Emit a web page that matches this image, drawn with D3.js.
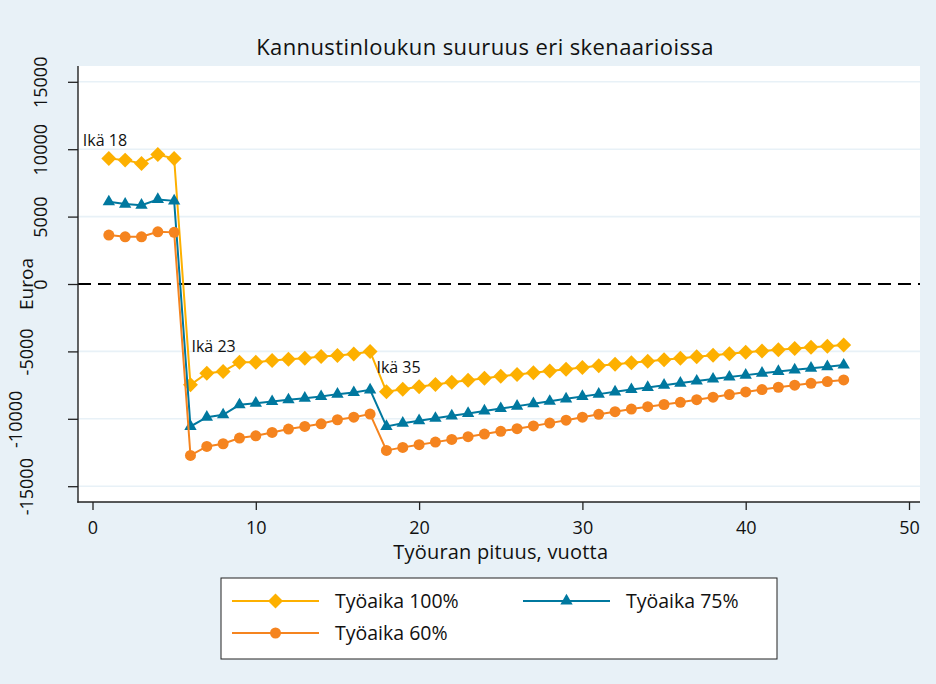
<!DOCTYPE html>
<html>
<head>
<meta charset="utf-8">
<script src="https://cdn.jsdelivr.net/npm/d3@7/dist/d3.min.js"></script>
<style>
  body { margin: 0; background: #e8f1f7; }
  text { font-family: "Open Sans", Lato, sans-serif; fill: #111; }
</style>
</head>
<body>
<svg id="chart" width="936" height="684"></svg>
<script>
// data
var years = [1, 2, 3, 4, 5, 6, 7, 8, 9, 10, 11, 12, 13, 14, 15, 16, 17, 18, 19, 20, 21, 22, 23,
  24, 25, 26, 27, 28, 29, 30, 31, 32, 33, 34, 35, 36, 37, 38, 39, 40, 41, 42, 43, 44, 45, 46];

var tyoaika100 = [9310, 9190, 8940, 9610, 9310,
  -7480, -6620, -6490, -5800, -5800, -5680, -5580, -5510, -5380, -5310, -5190, -5010,
  -7990, -7800, -7620, -7450, -7290, -7140, -6990, -6850, -6710, -6580, -6450, -6320,
  -6190, -6070, -5950, -5840, -5730, -5620, -5510, -5400, -5290, -5180, -5070, -4970,
  -4880, -4790, -4700, -4610, -4525];

var tyoaika75 = [6100, 5930, 5850, 6270, 6170,
  -10570, -9880, -9700, -8960, -8840, -8720, -8590, -8470, -8350, -8170, -8050, -7850,
  -10570, -10330, -10140, -9960, -9780, -9600, -9420, -9240, -9060, -8880, -8700, -8520,
  -8340, -8170, -8000, -7830, -7670, -7510, -7350, -7200, -7050, -6900, -6760, -6620,
  -6490, -6370, -6250, -6130, -6010];

var tyoaika60 = [3630, 3500, 3500, 3870, 3830,
  -12720, -12050, -11850, -11430, -11260, -11010, -10760, -10570, -10370, -10070, -9880, -9650,
  -12350, -12120, -11920, -11730, -11530, -11330, -11130, -10930, -10730, -10530, -10320, -10100,
  -9880, -9670, -9470, -9280, -9100, -8940, -8780, -8580, -8400, -8200, -8010, -7830,
  -7660, -7510, -7370, -7240, -7120];

var seriesNames = ["Työaika 100%", "Työaika 75%", "Työaika 60%"];
var xTicks = [0, 10, 20, 30, 40, 50];
var yTicks = [-15000, -10000, -5000, 0, 5000, 10000, 15000];
var ageLabels = ["Ikä 18", "Ikä 23", "Ikä 35"];
var ageYears = [1, 6, 18];

var colors = ["#fdb000", "#00789f", "#f5841f"];
var bg = "#e8f1f7";

var svg = d3.select("#chart");
var plot = {left: 78, right: 920, top: 66, bottom: 502};

var x = d3.scaleLinear().domain([0, 50]).range([92.5, 909]);
var y = d3.scaleLinear().domain([-15000, 15000]).range([486.2, 81.8]);

svg.append("rect").attr("width", 936).attr("height", 684).attr("fill", bg);
svg.append("rect")
    .attr("x", plot.left).attr("y", plot.top)
    .attr("width", plot.right - plot.left).attr("height", plot.bottom - plot.top)
    .attr("fill", "#fff");

// grid lines
svg.selectAll(".grid")
    .data(yTicks.filter(function(d) { return d != 0; }))
  .enter().append("line")
    .attr("class", "grid")
    .attr("x1", plot.left).attr("x2", plot.right)
    .attr("y1", function(d) { return y(d); })
    .attr("y2", function(d) { return y(d); })
    .attr("stroke", bg).attr("stroke-width", 1.6);

// dashed zero line
svg.append("line")
    .attr("x1", plot.left).attr("x2", plot.right)
    .attr("y1", y(0)).attr("y2", y(0))
    .attr("stroke", "#000").attr("stroke-width", 2.2)
    .attr("stroke-dasharray", "13,7");

// axes
var yAxis = d3.axisLeft(y).tickValues(yTicks).tickSize(10).tickSizeOuter(0)
    .tickFormat(function(d) { return String(d); });
var gy = svg.append("g").attr("transform", "translate(" + plot.left + ",0)").call(yAxis);
gy.select(".domain").remove();
gy.selectAll(".tick line").attr("stroke", "#222").attr("stroke-width", 1.3);
// rotated labels; the long negative ones sit further out
var labelBase = {"-15000": 33, "-10000": 22, "-5000": 33};
gy.selectAll(".tick text")
    .attr("x", 0).attr("dy", 0).attr("y", 0)
    .attr("text-anchor", "middle")
    .style("font-size", "18px").style("font-family", "'Open Sans', sans-serif").attr("fill", "#111")
    .attr("transform", function(d) {
      var bx = labelBase[String(d)] || 47;
      return "translate(" + (bx - plot.left) + ",0) rotate(-90)";
    });

var xAxis = d3.axisBottom(x).tickValues(xTicks).tickSize(8).tickSizeOuter(0);
var gx = svg.append("g").attr("transform", "translate(0," + plot.bottom + ")").call(xAxis);
gx.select(".domain").remove();
gx.selectAll(".tick line").attr("stroke", "#222").attr("stroke-width", 1.3);
gx.selectAll(".tick text")
    .attr("y", 19)
    .style("font-size", "18px").style("font-family", "'Open Sans', sans-serif").attr("fill", "#111");

svg.append("line")
    .attr("x1", plot.left).attr("x2", plot.left)
    .attr("y1", plot.top).attr("y2", plot.bottom + 0.7)
    .attr("stroke", "#222").attr("stroke-width", 1.4);
svg.append("line")
    .attr("x1", plot.left - 0.7).attr("x2", plot.right)
    .attr("y1", plot.bottom).attr("y2", plot.bottom)
    .attr("stroke", "#222").attr("stroke-width", 1.4);

// titles
svg.append("text")
    .attr("x", 485).attr("y", 55)
    .attr("text-anchor", "middle")
    .style("font-size", "22px").style("letter-spacing", "0.4px")
    .text("Kannustinloukun suuruus eri skenaarioissa");

svg.append("text")
    .attr("x", (x(0) + x(50)) / 2).attr("y", 559)
    .attr("text-anchor", "middle")
    .style("font-size", "20px").style("letter-spacing", "0.2px")
    .text("Työuran pituus, vuotta");

svg.append("text")
    .attr("transform", "translate(33," + y(0) + ") rotate(-90)")
    .attr("text-anchor", "middle")
    .style("font-size", "19px")
    .text("Euroa");

// series
var series = [tyoaika100, tyoaika75, tyoaika60].map(function(vals, i) {
  return {
    name: seriesNames[i],
    color: colors[i],
    values: years.map(function(yr, j) { return {year: yr, value: vals[j]}; })
  };
});

var symbols = [
  d3.symbol().type(d3.symbolSquare).size(112),
  d3.symbol().type(d3.symbolTriangle).size(66),
  d3.symbol().type(d3.symbolCircle).size(95)
];
var symRotate = [45, 0, 0];

var line = d3.line()
    .x(function(d) { return x(d.year); })
    .y(function(d) { return y(d.value); });

series.forEach(function(s, i) {
  var g = svg.append("g").attr("class", "series");
  g.append("path")
      .datum(s.values)
      .attr("d", line)
      .attr("fill", "none")
      .attr("stroke", s.color)
      .attr("stroke-width", 2);
  g.selectAll(".mark")
      .data(s.values)
    .enter().append("path")
      .attr("class", "mark")
      .attr("d", symbols[i])
      .attr("transform", function(d) {
        return "translate(" + x(d.year) + "," + y(d.value) + ") rotate(" + symRotate[i] + ")";
      })
      .attr("fill", s.color);
});

// age labels on the 100% series
var ageOffsets = [[-26, -13], [1, -33], [-10, -19]];
ageLabels.forEach(function(lbl, i) {
  var v = tyoaika100[years.indexOf(ageYears[i])];
  svg.append("text")
      .attr("x", x(ageYears[i]) + ageOffsets[i][0])
      .attr("y", y(v) + ageOffsets[i][1])
      .style("font-size", "16px")
      .text(lbl);
});

// legend
var legend = svg.append("g").attr("class", "legend");
legend.append("rect")
    .attr("x", 221).attr("y", 578).attr("width", 556).attr("height", 81)
    .attr("fill", "#fff").attr("stroke", "#222").attr("stroke-width", 1);

var legCols = [232, 523], legRows = [601, 633];
series.forEach(function(s, i) {
  var lx = legCols[i % 2], ly = legRows[Math.floor(i / 2)];
  var item = legend.append("g").attr("transform", "translate(" + lx + "," + ly + ")");
  item.append("line").attr("x1", 0).attr("x2", 87)
      .attr("stroke", s.color).attr("stroke-width", 2);
  item.append("path").attr("d", symbols[i])
      .attr("transform", "translate(43.5,0) rotate(" + symRotate[i] + ")")
      .attr("fill", s.color);
  item.append("text").attr("x", 103).attr("dy", "0.35em")
      .style("font-size", "19.5px")
      .text(s.name);
});
</script>
</body>
</html>
